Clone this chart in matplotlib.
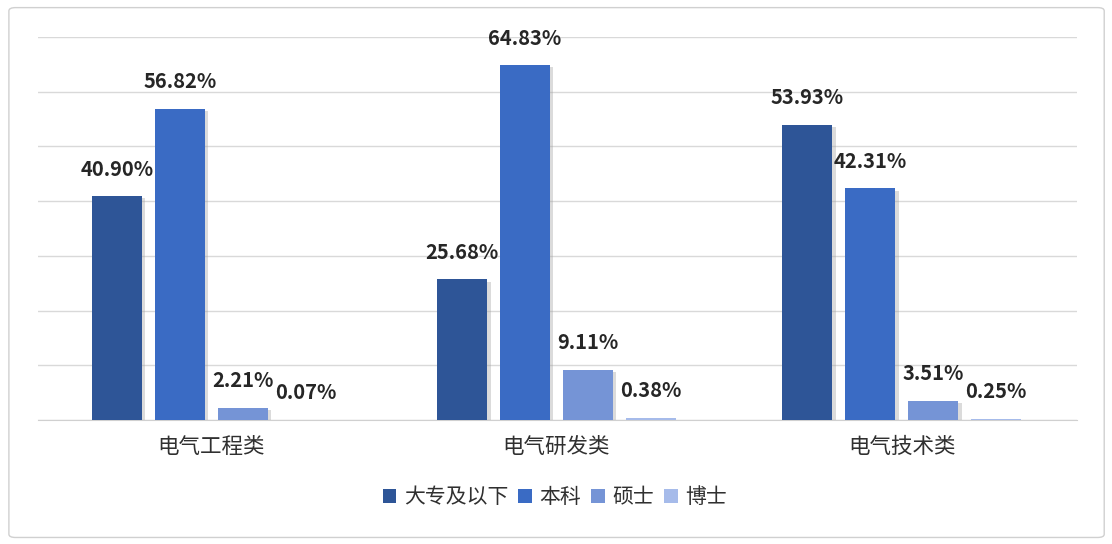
import numpy as np
import matplotlib
matplotlib.use("Agg")
import matplotlib.pyplot as plt
from matplotlib.patches import FancyBboxPatch
import matplotlib.patheffects as pe

plt.rcParams['font.family'] = ['Noto Sans CJK SC', 'DejaVu Sans']

categories = ['电气工程类', '电气研发类', '电气技术类']
series = ['大专及以下', '本科', '硕士', '博士']
values = [
    [40.90, 25.68, 53.93],   # 大专及以下
    [56.82, 64.83, 42.31],   # 本科
    [2.21, 9.11, 3.51],      # 硕士
    [0.07, 0.38, 0.25],      # 博士
]
colors = ['#2E5597', '#3A6BC4', '#7594D6', '#A6BBEA']

fig = plt.figure(figsize=(11.12, 5.44), dpi=100)
ax = fig.add_axes([0.034, 0.228, 0.9345, 0.704])

# outer border
fig.patches.append(FancyBboxPatch((0.008, 0.012), 0.985, 0.974,
                                  boxstyle="round,pad=0,rounding_size=0.006",
                                  transform=fig.transFigure, fill=False,
                                  edgecolor='#D0D0D0', linewidth=1.0))

x = np.arange(len(categories))
width = 0.145
step = 0.182
shadow = [pe.SimplePatchShadow(offset=(2.5, -1.5), shadow_rgbFace='#9A9A9A', alpha=0.35),
          pe.Normal()]

for i, (name, vals) in enumerate(zip(series, values)):
    pos = x + (i - 1.5) * step
    bars = ax.bar(pos, vals, width, color=colors[i], label=name, zorder=3)
    for b in bars:
        b.set_path_effects(shadow)
    for px, v in zip(pos, vals):
        ax.annotate(f'{v:.2f}%', (px, v), xytext=(0, 12), textcoords='offset points',
                    ha='center', va='bottom', fontsize=14.5, fontweight='bold',
                    color='#262626', zorder=4)

ax.set_xlim(-0.502, 2.508)
ax.set_ylim(0, 70)
ax.set_yticks(np.arange(0, 71, 10))
ax.yaxis.grid(True, color='#D9D9D9', linewidth=1.0, zorder=0)
ax.tick_params(axis='y', left=False, labelleft=False)
ax.tick_params(axis='x', bottom=False, pad=8, labelsize=15.5, labelcolor='#303030')
ax.set_xticks(x)
ax.set_xticklabels(categories)
for s in ['top', 'right', 'left']:
    ax.spines[s].set_visible(False)
ax.spines['bottom'].set_color('#D0D0D0')

leg = ax.legend(loc='center', bbox_to_anchor=(0.4976, -0.201), ncol=4, frameon=False,
                prop={'size': 15}, handlelength=0.65, handleheight=0.65,
                handletextpad=0.35, columnspacing=0.5, labelcolor='#303030')
# no shadow on the legend squares
for h in leg.legend_handles:
    h.set_path_effects([])

fig.savefig('out.png', dpi=100, facecolor='white')
